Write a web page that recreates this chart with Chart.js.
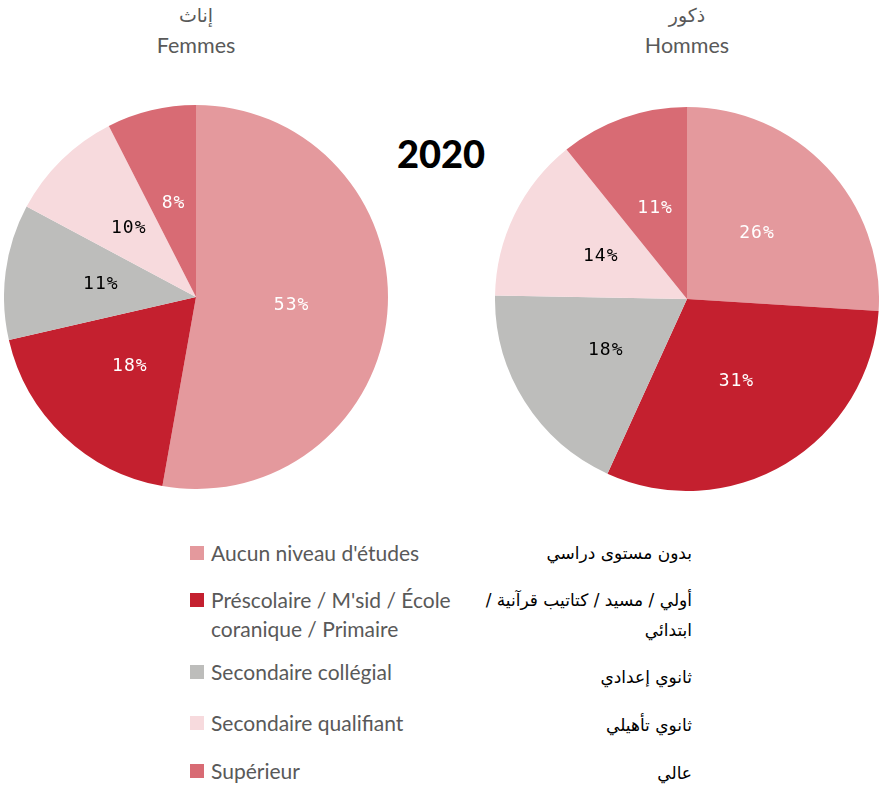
<!DOCTYPE html>
<html>
<head>
<meta charset="utf-8">
<script src="https://cdn.jsdelivr.net/npm/chart.js@4.4.0/dist/chart.umd.min.js"></script>
<style>
  body { margin: 0; background: #fff; width: 879px; height: 790px; position: relative; overflow: hidden; }
  .box { position: absolute; width: 384px; height: 384px; }
  .title { position: absolute; width: 300px; text-align: center; color: #595959; font-family: Lato, sans-serif; font-size: 21.5px; line-height: 30px; }
  .title .ar { font-family: "DejaVu Sans", serif; font-size: 19px; }
  #year { position: absolute; left: 341px; top: 130px; width: 200px; text-align: center; font-family: Lato, sans-serif; font-weight: 900; font-size: 38px; color: #000; }
  .leg { position: absolute; left: 190px; font-family: Lato, sans-serif; font-size: 21px; color: #595959; line-height: 29px; white-space: pre-line; padding-left: 21px; }
  .leg i { position: absolute; left: 0; top: 8px; width: 14px; height: 14px; }
  .arl { position: absolute; right: 187px; direction: rtl; text-align: right; font-family: "DejaVu Sans", serif; font-size: 17px; color: #000; line-height: 30px; white-space: pre-line; }
</style>
</head>
<body>
<div class="title" style="left:46px;top:0px"><div class="ar">إناث</div>Femmes</div>
<div class="title" style="left:537px;top:0px"><div class="ar">ذكور</div>Hommes</div>
<div id="year">2020</div>
<div class="box" style="left:4px;top:105px"><canvas id="femmes"></canvas></div>
<div class="box" style="left:495px;top:107px"><canvas id="hommes"></canvas></div>
<div id="legend"></div>
<script>
const categories = ["Aucun niveau d'études", "Préscolaire / M'sid / École\ncoranique / Primaire", "Secondaire collégial", "Secondaire qualifiant", "Supérieur"];
const categoriesAr = ["بدون مستوى دراسي", "أولي / مسيد / كتاتيب قرآنية /\nابتدائي", "ثانوي إعدادي", "ثانوي تأهيلي", "عالي"];
const femmesValues = [52.8, 18.6, 11.4, 9.7, 7.5];
const femmesLabels = ["53%", "18%", "11%", "10%", "8%"];
const hommesValues = [26.0, 30.8, 18.5, 13.9, 10.8];
const hommesLabels = ["26%", "31%", "18%", "14%", "11%"];
const colors = ["#E4999D", "#C4202F", "#BDBDBB", "#F7DADD", "#D86B74"];
const labelColors = ["#fff", "#fff", "#000", "#000", "#fff"];

// legend rows
const legTops = [538, 585, 657, 708, 756];
const arTops = [538, 585, 662, 710, 758];
let legend = document.getElementById("legend");
for (let i = 0; i < categories.length; i++) {
  let row = document.createElement("div");
  row.className = "leg";
  row.style.top = legTops[i] + "px";
  row.innerHTML = '<i style="background:' + colors[i] + '"></i>';
  row.appendChild(document.createTextNode(categories[i]));
  legend.appendChild(row);
  let ar = document.createElement("div");
  ar.className = "arl";
  ar.style.top = arTops[i] + "px";
  ar.textContent = categoriesAr[i];
  legend.appendChild(ar);
}

// draws the % in the middle of each slice
function sliceLabels(texts) {
  return {
    id: "sliceLabels",
    afterDatasetsDraw(chart) {
      let c = chart.ctx;
      let meta = chart.getDatasetMeta(0);
      c.save();
      c.font = "18px 'DejaVu Sans Mono', monospace";
      c.letterSpacing = "1px";
      c.textAlign = "center";
      c.textBaseline = "middle";
      meta.data.forEach((arc, i) => {
        let p = arc.tooltipPosition();
        c.fillStyle = labelColors[i];
        c.fillText(texts[i], p.x, p.y);
      });
      c.restore();
    },
  };
}

function drawPie(id, values, texts) {
  new Chart(document.getElementById(id), {
    type: "pie",
    data: {
      labels: categories,
      datasets: [{ data: values, backgroundColor: colors, borderWidth: 0, hoverOffset: 0 }],
    },
    options: {
      responsive: true,
      maintainAspectRatio: false,
      animation: false,
      layout: { padding: 0 },
      plugins: { legend: { display: false }, tooltip: { enabled: false } },
    },
    plugins: [sliceLabels(texts)],
  });
}

drawPie("femmes", femmesValues, femmesLabels);
drawPie("hommes", hommesValues, hommesLabels);
</script>
</body>
</html>
